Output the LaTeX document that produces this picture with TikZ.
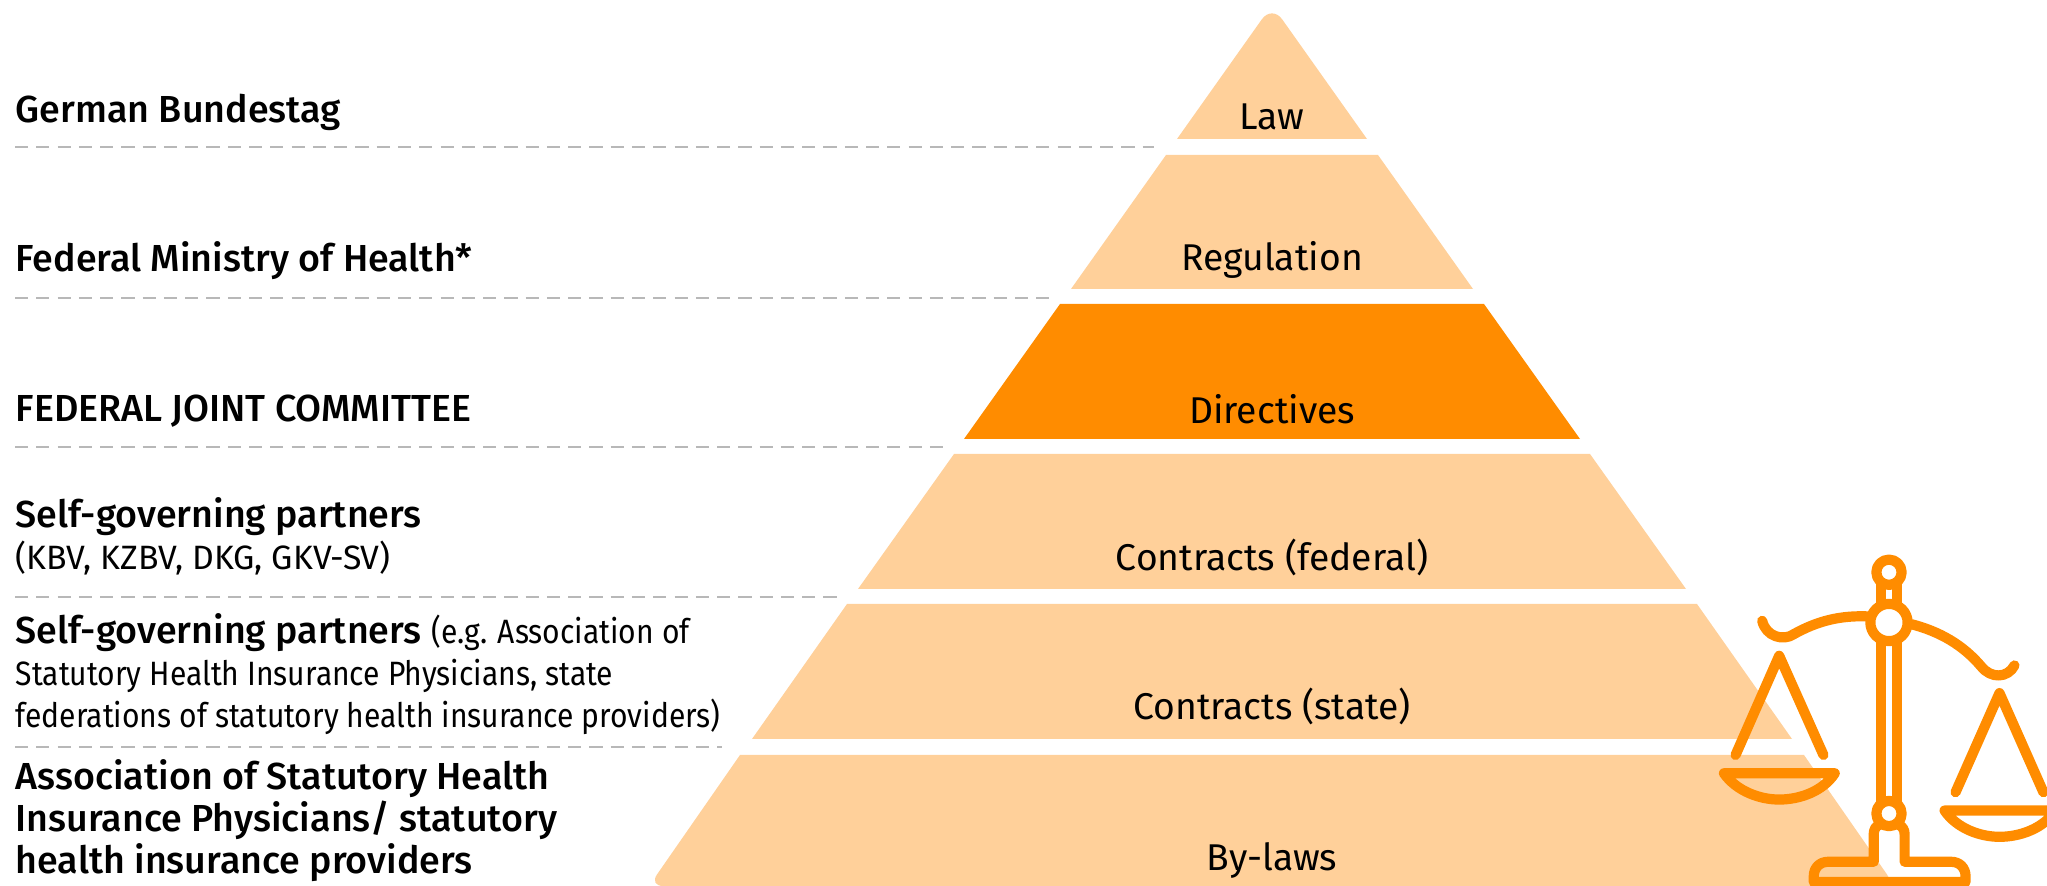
\documentclass[tikz,border=0pt]{standalone}
\usepackage{fontspec}
\setmainfont{Fira Sans}[BoldFont = {Fira Sans Medium}]
\newfontfamily\narrowfont{Fira Sans}[FakeStretch = 0.89]
\usepackage{xcolor}
\definecolor{pale}{HTML}{FFD09A}
\definecolor{strong}{HTML}{FF8C00}
\definecolor{rule}{HTML}{B8B8B8}
\newcommand{\plainside}{\fontsize{9.6pt}{12pt}\selectfont}
\newcommand{\narrowside}{\narrowfont\plainside}
\tikzset{
    side/.style = {anchor = base west, inner sep = 0pt, font = \fontsize{10.7pt}{12pt}\selectfont},
    level/.style = {anchor = base, inner sep = 0pt, font = \fontsize{10.6pt}{12pt}\selectfont},
    sep/.style = {rule, line width = 0.6pt, dash pattern = on 3.75pt off 2.3pt},
    icon/.style = {strong, line width = 2.9pt, line cap = round, line join = round}
}
\begin{document}
\begin{tikzpicture}[x = 0.01cm, y = -0.01cm]
    \useasboundingbox (0,0) rectangle (2047,886);
    \clip (0,0) rectangle (2047,886);
    % Pyramid
    \fill[pale] (1177,139) [rounded corners = 5pt] -- (1272,5) [sharp corners] -- (1367,139) -- cycle;
    \fill[pale] (1166,155) -- (1378,155) -- (1473,289) -- (1071,289) -- cycle;
    \fill[strong] (1060,304) -- (1484,304) -- (1580,439) -- (964,439) -- cycle;
    \fill[pale] (954,454) -- (1590,454) -- (1686,589) -- (858,589) -- cycle;
    \fill[pale] (847,604) -- (1697,604) -- (1792,739) -- (752,739) -- cycle;
    \fill[pale] (740,755) -- (1804,755) [rounded corners = 4pt] -- (1895,886) -- (649,886) [sharp corners] -- cycle;
    % Levels
    \node[level] (law) at (1272,130) {Law};
    \node[level] (regulation) at (1272,271) {Regulation};
    \node[level] (directives) at (1272,424) {Directives};
    \node[level] (federal) at (1272,571) {Contracts (federal)};
    \node[level] (state) at (1272,720) {Contracts (state)};
    \node[level] (bylaws) at (1272,871) {By-laws};
    % Dashed separators
    \foreach \y/\xend in {147/1154, 298/1056, 447/946, 597/842, 747/722}{
        \draw[sep] (15,\y) -- (\xend,\y);
    };
    % Left column
    \node[side] (bundestag) at (15,123) {\textbf{German Bundestag}};
    \node[side] (ministry) at (15,272) {\textbf{Federal Ministry of Health*}};
    \node[side] (gba) at (15,422) {\textbf{FEDERAL JOINT COMMITTEE}};
    \node[side, align = left] (partnersa) at (15,570) {\textbf{Self-governing partners}\\{\plainside(KBV, KZBV, DKG, GKV-SV)}};
    \node[side, align = left] (partnersb) at (15,728) {\textbf{Self-governing partners} {\narrowside(e.g. Association of}\\{\narrowside Statutory Health Insurance Physicians, state}\\{\narrowside federations of statutory health insurance providers)}};
    \node[side, align = left] (providers) at (15,874) {\textbf{Association of Statutory Health}\\\textbf{Insurance Physicians/ statutory}\\\textbf{health insurance providers}};
    % Scales
    \begin{scope}[shift = {(1680,530)}, x = 0.00333cm, y = -0.00333cm]
        % Pole
        \draw[icon] (603,160) -- (603,220) (653,160) -- (653,220);
        \draw[icon] (603,335) -- (603,815) (653,335) -- (653,815);
        \draw[icon] (628,127) circle[radius = 38];
        \draw[icon] (628,278) circle[radius = 56];
        \draw[icon] (628,852) circle[radius = 38];
        % Beam
        \draw[icon] (247,273) .. controls (258,320) and (310,335) .. (342,313) .. controls (410,275) and (480,255) .. (572,260);
        \draw[icon] (695,283) .. controls (780,305) and (850,345) .. (905,410) .. controls (935,448) and (985,445) .. (1005,407);
        % Left pan
        \draw[icon] (167,676) -- (298,378) -- (431,676);
        \draw[icon] (132,731) -- (465,731) .. controls (430,785) and (360,810) .. (298,810) .. controls (240,810) and (170,785) .. (132,731) -- cycle;
        % Right pan
        \draw[icon] (828,788) -- (960,490) -- (1092,788);
        \draw[icon] (795,843) -- (1128,843) .. controls (1092,897) and (1022,922) .. (960,922) .. controls (902,922) and (832,897) .. (795,843) -- cycle;
        % Base
        \draw[icon] (600,885) .. controls (588,890) and (582,900) .. (582,915) -- (582,997) -- (445,997) .. controls (420,997) and (402,1015) .. (402,1040) -- (402,1058) -- (858,1058) -- (858,1040) .. controls (858,1015) and (840,997) .. (815,997) -- (675,997) -- (675,915) .. controls (675,900) and (668,890) .. (656,885);
    \end{scope}
\end{tikzpicture}
\end{document}
